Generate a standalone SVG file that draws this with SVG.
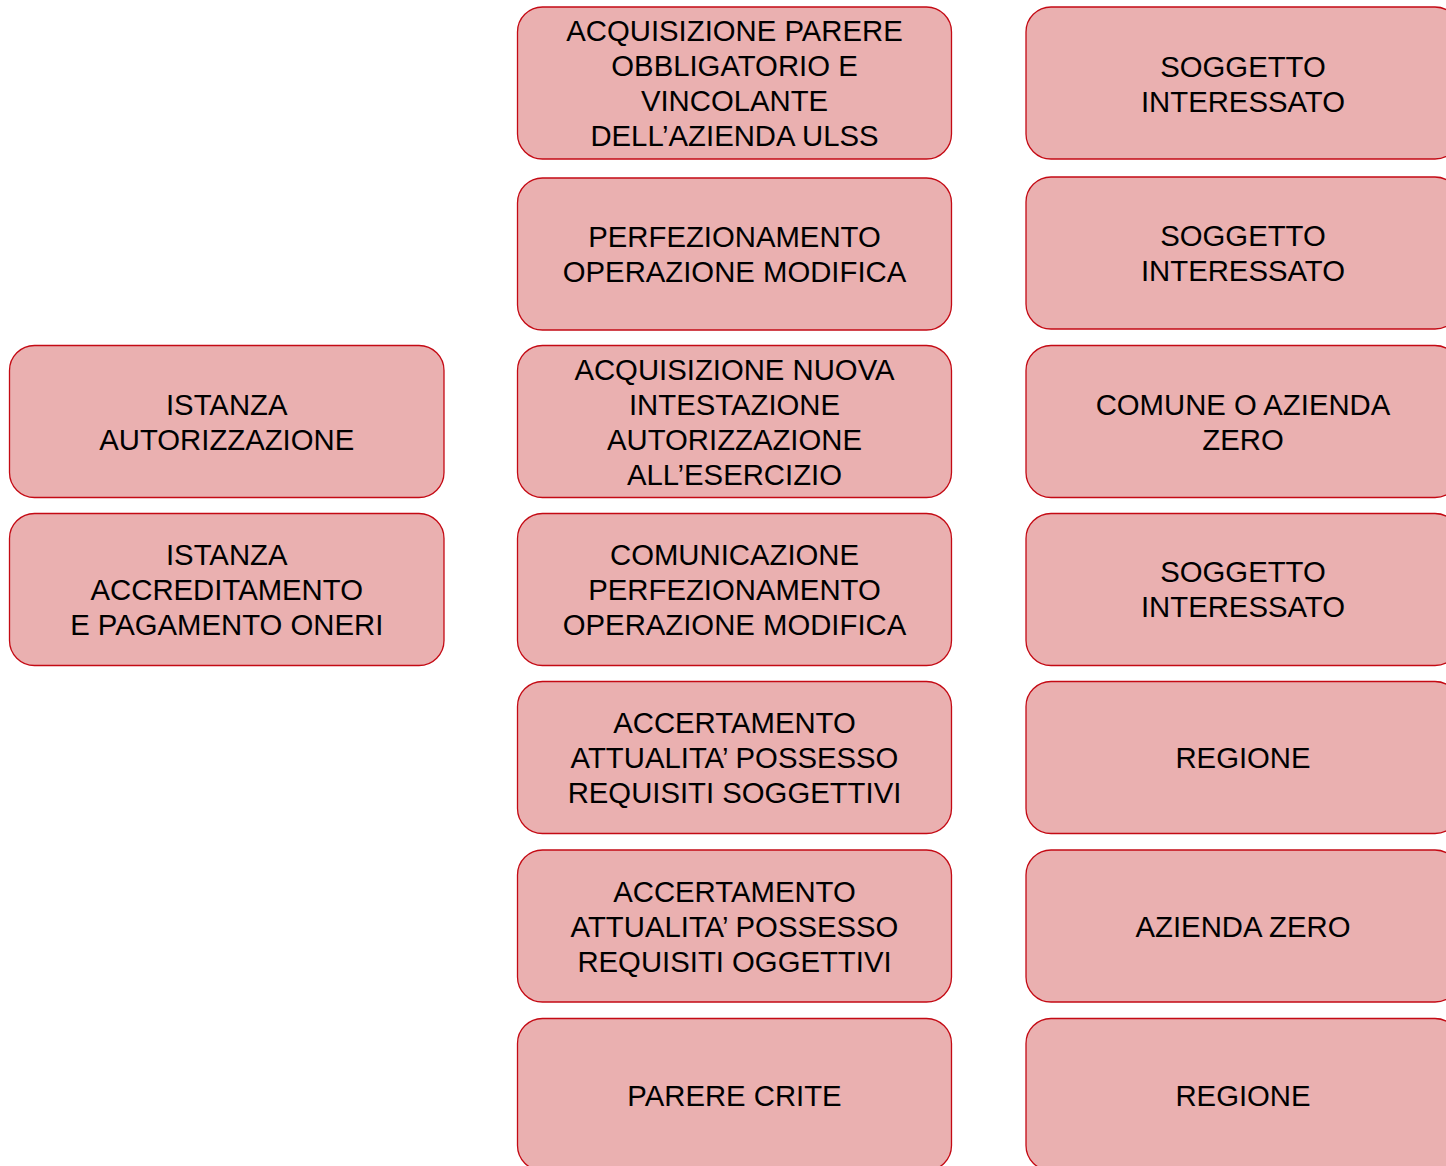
<svg xmlns="http://www.w3.org/2000/svg" width="1446" height="1166" viewBox="0 0 1446 1166">
<style>
.box{fill:#EAB0B0;stroke:#C40A14;stroke-width:1.3}
.t{font-family:"Liberation Sans",Arial,sans-serif;font-size:29.3px;fill:#000;text-anchor:middle}
</style>
<rect width="1446" height="1166" fill="#fff"/>
<g id="connectors"/>
<g id="n-istanza-aut"><rect class="box" x="9.5" y="345.5" width="434.5" height="152" rx="25"/>
<text class="t"><tspan x="226.75" y="415">ISTANZA</tspan><tspan x="226.75" y="450">AUTORIZZAZIONE</tspan></text></g>
<g id="n-istanza-acc"><rect class="box" x="9.5" y="513.5" width="434.5" height="152" rx="25"/>
<text class="t"><tspan x="226.75" y="565">ISTANZA</tspan><tspan x="226.75" y="600">ACCREDITAMENTO</tspan><tspan x="226.75" y="635">E PAGAMENTO ONERI</tspan></text></g>

<g id="n-m1"><rect class="box" x="517.5" y="7" width="434" height="152" rx="25"/>
<text class="t"><tspan x="734.5" y="41">ACQUISIZIONE PARERE</tspan><tspan x="734.5" y="76">OBBLIGATORIO E</tspan><tspan x="734.5" y="111">VINCOLANTE</tspan><tspan x="734.5" y="146">DELL’AZIENDA ULSS</tspan></text></g>
<g id="n-m2"><rect class="box" x="517.5" y="178" width="434" height="152" rx="25"/>
<text class="t"><tspan x="734.5" y="247">PERFEZIONAMENTO</tspan><tspan x="734.5" y="282">OPERAZIONE MODIFICA</tspan></text></g>
<g id="n-m3"><rect class="box" x="517.5" y="345.5" width="434" height="152" rx="25"/>
<text class="t"><tspan x="734.5" y="380">ACQUISIZIONE NUOVA</tspan><tspan x="734.5" y="415">INTESTAZIONE</tspan><tspan x="734.5" y="450">AUTORIZZAZIONE</tspan><tspan x="734.5" y="485">ALL’ESERCIZIO</tspan></text></g>
<g id="n-m4"><rect class="box" x="517.5" y="513.5" width="434" height="152" rx="25"/>
<text class="t"><tspan x="734.5" y="565">COMUNICAZIONE</tspan><tspan x="734.5" y="600">PERFEZIONAMENTO</tspan><tspan x="734.5" y="635">OPERAZIONE MODIFICA</tspan></text></g>
<g id="n-m5"><rect class="box" x="517.5" y="681.5" width="434" height="152" rx="25"/>
<text class="t"><tspan x="734.5" y="733">ACCERTAMENTO</tspan><tspan x="734.5" y="768">ATTUALITA’ POSSESSO</tspan><tspan x="734.5" y="803">REQUISITI SOGGETTIVI</tspan></text></g>
<g id="n-m6"><rect class="box" x="517.5" y="850" width="434" height="152" rx="25"/>
<text class="t"><tspan x="734.5" y="902">ACCERTAMENTO</tspan><tspan x="734.5" y="937">ATTUALITA’ POSSESSO</tspan><tspan x="734.5" y="972">REQUISITI OGGETTIVI</tspan></text></g>
<g id="n-m7"><rect class="box" x="517.5" y="1018.5" width="434" height="152" rx="25"/>
<text class="t"><tspan x="734.5" y="1106">PARERE CRITE</tspan></text></g>

<g id="n-r1"><rect class="box" x="1026" y="7" width="434" height="152" rx="25"/>
<text class="t"><tspan x="1243" y="77">SOGGETTO</tspan><tspan x="1243" y="112">INTERESSATO</tspan></text></g>
<g id="n-r2"><rect class="box" x="1026" y="177" width="434" height="152" rx="25"/>
<text class="t"><tspan x="1243" y="246">SOGGETTO</tspan><tspan x="1243" y="281">INTERESSATO</tspan></text></g>
<g id="n-r3"><rect class="box" x="1026" y="345.5" width="434" height="152" rx="25"/>
<text class="t"><tspan x="1243" y="415">COMUNE O AZIENDA</tspan><tspan x="1243" y="450">ZERO</tspan></text></g>
<g id="n-r4"><rect class="box" x="1026" y="513.5" width="434" height="152" rx="25"/>
<text class="t"><tspan x="1243" y="582">SOGGETTO</tspan><tspan x="1243" y="617">INTERESSATO</tspan></text></g>
<g id="n-r5"><rect class="box" x="1026" y="681.5" width="434" height="152" rx="25"/>
<text class="t"><tspan x="1243" y="768">REGIONE</tspan></text></g>
<g id="n-r6"><rect class="box" x="1026" y="850" width="434" height="152" rx="25"/>
<text class="t"><tspan x="1243" y="937">AZIENDA ZERO</tspan></text></g>
<g id="n-r7"><rect class="box" x="1026" y="1018.5" width="434" height="152" rx="25"/>
<text class="t"><tspan x="1243" y="1106">REGIONE</tspan></text></g>
</svg>
